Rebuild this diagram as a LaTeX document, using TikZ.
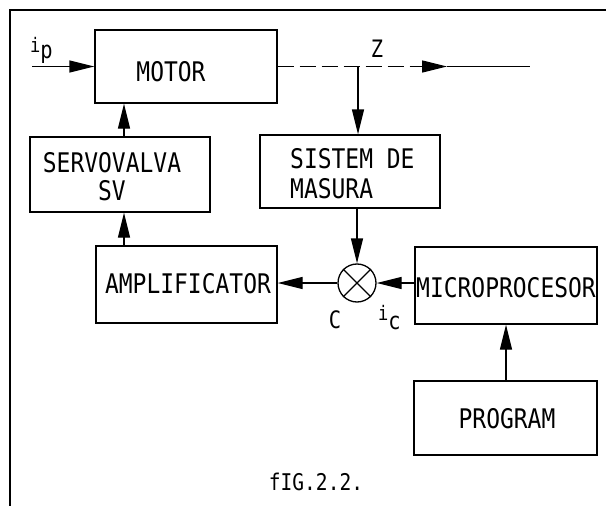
\documentclass[tikz,border=0pt]{standalone}
\usepackage{fontspec}
\setmainfont[FakeStretch=0.85]{DejaVu Sans Mono}
\usetikzlibrary{arrows.meta,shapes.geometric}
\tikzset{
  box/.style={draw, line width=1.3pt, rectangle, inner sep=0pt},
  txt/.style={inner sep=0pt, font=\fontsize{27}{31}\selectfont},
  lbl/.style={inner sep=0pt, font=\fontsize{24}{27}\selectfont},
  conn/.style={line width=1.3pt},
  arr/.style={line width=1.3pt, -{Triangle[length=25pt,width=12pt]}},
  dashpat/.style={line width=1.3pt, dash pattern=on 16pt off 6pt},
  frame/.style={line width=1.8pt}
}
\begin{document}
\begin{tikzpicture}[x=1pt,y=-1pt]
\useasboundingbox (0,0) rectangle (606,506);
% frame
\coordinate (ftl) at (10,10);
\coordinate (ftr) at (606,10);
\coordinate (fbl) at (10,506);
\draw[frame] (ftr) -- (ftl) -- (fbl);
% boxes
\node[box, minimum width=182pt, minimum height=73pt] (motor) at (186,66.5) {};
\node[txt] (motortxt) at (171,72) {MOTOR};
\node[box, minimum width=180pt, minimum height=75pt] (servo) at (120,174.5) {};
\node[txt] (servotxt1) at (112,163) {SERVOVALVA};
\node[txt] (servotxt2) at (112,191) {SV};
\node[box, minimum width=180pt, minimum height=73pt] (sistem) at (350,171.5) {};
\node[txt, anchor=west] (sistxt1) at (290,159) {SISTEM DE};
\node[txt, anchor=west] (sistxt2) at (290,189) {MASURA};
\node[box, minimum width=181pt, minimum height=77pt] (ampl) at (186.5,284.5) {};
\node[txt] (ampltxt) at (188,284) {AMPLIFICATOR};
\node[box, minimum width=182pt, minimum height=77pt] (micro) at (506,285.5) {};
\node[txt] (microtxt) at (506,288) {MICROPROCESOR};
\node[box, minimum width=183pt, minimum height=74pt] (prog) at (505.5,418) {};
\node[txt] (progtxt) at (507,419) {PROGRAM};
\node[draw, circle, line width=1.3pt, minimum size=38pt, inner sep=0pt] (sum) at (357,283) {};
\draw[conn] (sum.north east) -- (sum.south west);
\draw[conn] (sum.north west) -- (sum.south east);
% labels
\node[lbl, anchor=south west] (ip) at (30,64) {\raisebox{6pt}{\fontsize{20}{22}\selectfont i}p};
\node[lbl] (zl) at (377,49) {Z};
\node[lbl] (cl) at (335,320) {C};
\node[lbl, anchor=south west] (icl) at (378,330) {\raisebox{9pt}{\fontsize{20}{22}\selectfont i}c};
\node[lbl] (figl) at (316,482) {\fontsize{23}{26}\selectfont fIG.2.2.};
% connectors
\coordinate (ipstart) at (32,66.5);
\draw[arr] (ipstart) -- (motor.west);
\coordinate (zj) at (358,66.5);
\coordinate (za1) at (421,66.5);
\coordinate (za2) at (447,66.5);
\coordinate (zend) at (530,66.5);
\draw[dashpat] (motor.east) -- (za1);
\draw[arr] (za1) -- (za2);
\draw[conn] (za2) -- (zend);
\draw[arr] (zj) -- (zj |- sistem.north);
\draw[arr] (sum.north |- sistem.south) -- (sum.north);
\draw[arr] (micro.west |- sum.east) -- (sum.east);
\draw[arr] (sum.west) -- (sum.west -| ampl.east);
\coordinate (colL) at (124,0);
\draw[arr] (colL |- ampl.north) -- (colL |- servo.south);
\draw[arr] (colL |- servo.north) -- (colL |- motor.south);
\draw[arr] (prog.north -| 506,0) -- (micro.south -| 506,0);
\end{tikzpicture}
\end{document}
